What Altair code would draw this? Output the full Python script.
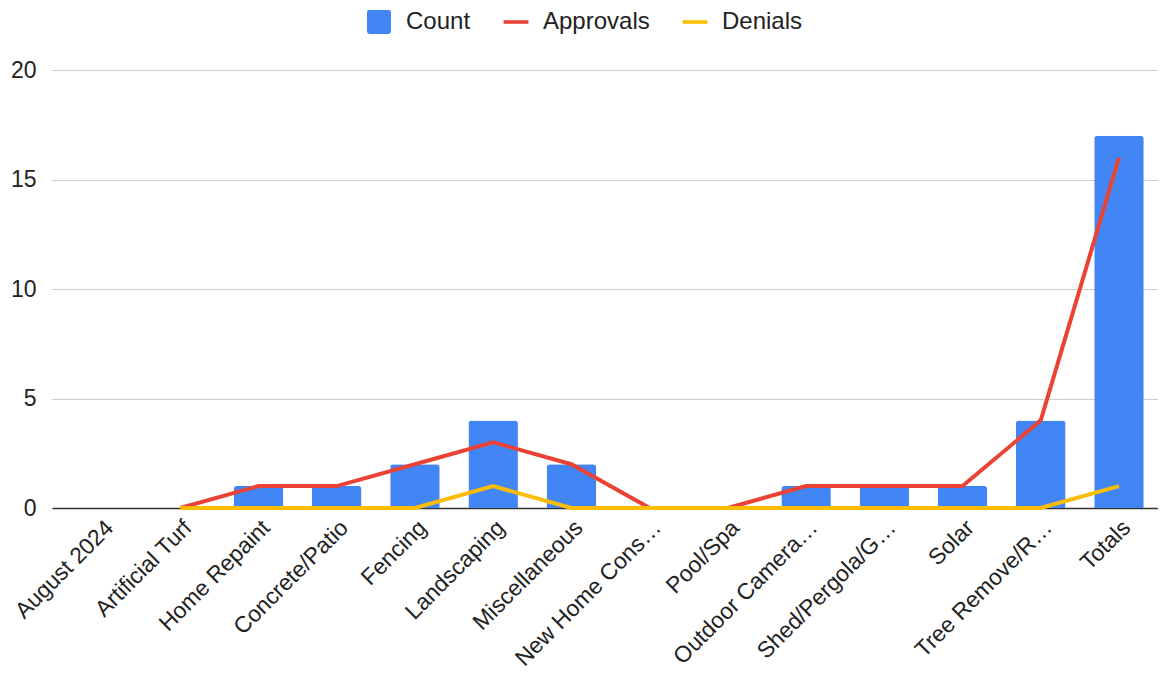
import altair as alt
import pandas as pd

categories = ["August 2024", "Artificial Turf", "Home Repaint", "Concrete/Patio", "Fencing",
              "Landscaping", "Miscellaneous", "New Home Cons…", "Pool/Spa", "Outdoor Camera…",
              "Shed/Pergola/G…", "Solar", "Tree Remove/R…", "Totals"]
count = [None, 0, 1, 1, 2, 4, 2, 0, 0, 1, 1, 1, 4, 17]
approvals = [None, 0, 1, 1, 2, 3, 2, 0, 0, 1, 1, 1, 4, 16]
denials = [None, 0, 0, 0, 0, 1, 0, 0, 0, 0, 0, 0, 0, 1]

series_names = ["Count", "Approvals", "Denials"]
series_colors = ["#4285F4", "#EA4335", "#FBBC04"]

rows = []
for name, vals in [("Count", count), ("Approvals", approvals), ("Denials", denials)]:
    for c, v in zip(categories, vals):
        rows.append({"category": c, "series": name, "value": v})
df = pd.DataFrame(rows)

FONT = "Liberation Sans"

x_enc = alt.X(
    "category:N",
    sort=categories,
    scale=alt.Scale(domain=categories, paddingInner=0.367, paddingOuter=0.323,
                    range=[3, 1120]),
    axis=alt.Axis(title=None, labelAngle=-45, ticks=False, domainColor="#333333",
                  domainWidth=1.5, labelFontSize=22.8, labelColor="#222222",
                  labelPadding=8, grid=False, labelLimit=300),
)
y_enc = alt.Y(
    "value:Q",
    scale=alt.Scale(domain=[0, 20]),
    axis=alt.Axis(title=None, values=[0, 5, 10, 15, 20], domain=False, ticks=False,
                  gridColor="#cccccc", gridWidth=1, labelPadding=13, labelFontSize=23,
                  labelColor="#222222"),
)

square = "M-0.8,-1H0.8Q1,-1 1,-0.8V0.8Q1,1 0.8,1H-0.8Q-1,1 -1,0.8V-0.8Q-1,-1 -0.8,-1Z"
dash = "M-1.04,-0.15H1.04V0.15H-1.04Z"

color_enc = alt.Color(
    "series:N",
    scale=alt.Scale(domain=series_names, range=series_colors),
    legend=alt.Legend(
        title=None, orient="none", direction="horizontal", legendX=318, legendY=-60,
        labelFontSize=24, labelColor="#222222", symbolSize=576, labelOffset=15,
        columnPadding=32, symbolStrokeWidth=0, symbolOpacity=1,
        symbolType={"expr": f"datum.value == 'Count' ? '{square}' : '{dash}'"},
    ),
)

bars = alt.Chart(df).transform_filter(alt.datum.series == "Count").mark_bar(
    cornerRadiusTopLeft=3, cornerRadiusTopRight=3
).encode(x=x_enc, y=y_enc, color=color_enc)

lines = alt.Chart(df).transform_filter(alt.datum.series != "Count").mark_line(
    strokeWidth=4
).encode(x=x_enc, y=y_enc, color=color_enc)

chart = alt.layer(bars, lines).properties(
    width=1109, height=438,
    padding={"left": 41, "top": 62, "right": 0, "bottom": 163},
    autosize=alt.AutoSizeParams(type="none"),
).configure(font=FONT).configure_view(stroke=None)

chart.save("out.html", embed_options={"renderer": "svg", "actions": False})
